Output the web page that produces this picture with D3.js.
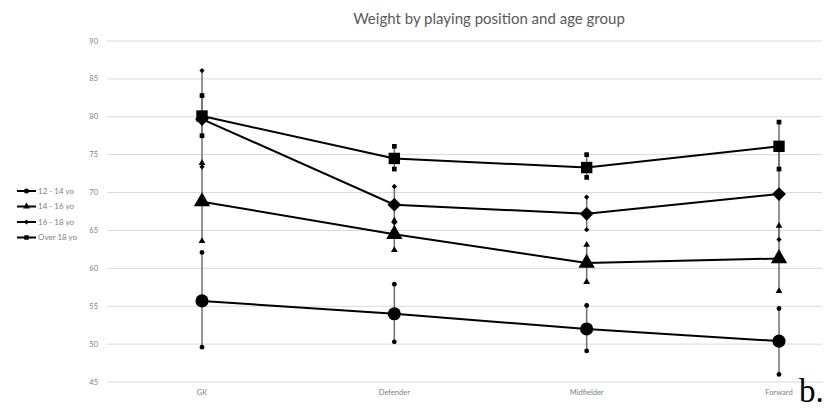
<!DOCTYPE html>
<html>
<head>
<meta charset="utf-8">
<script src="https://cdn.jsdelivr.net/npm/d3@7"></script>
<style>
  body { margin: 0; background: #fff; }
  svg { display: block; }
</style>
</head>
<body>
<div id="chart"></div>
<script>
const positions = ["GK", "Defender", "Midfielder", "Forward"];
const groups = ["12 - 14 yo", "14 - 16 yo", "16 - 18 yo", "Over 18 yo"];
const shapes = ["circle", "triangle", "diamond", "square"];

const means = [
    [55.7, 54.0, 52.0, 50.4],
    [68.8, 64.5, 60.7, 61.3],
    [79.7, 68.4, 67.2, 69.8],
    [80.1, 74.5, 73.3, 76.1]
];
const upper = [
    [62.1, 57.9, 55.1, 54.7],
    [73.9, 66.3, 63.1, 65.6],
    [86.1, 70.8, 69.4, 75.8],
    [82.8, 76.1, 75.0, 79.3]
];
const lower = [
    [49.6, 50.3, 49.1, 46.0],
    [63.6, 62.4, 58.2, 57.0],
    [73.4, 66.0, 65.1, 63.8],
    [77.5, 73.1, 72.0, 73.1]
];
const yTicks = [45, 50, 55, 60, 65, 70, 75, 80, 85, 90];

const width = 830, height = 408;
const svg = d3.select("#chart").append("svg").attr("width", width).attr("height", height);

const x = d3.scalePoint().domain(positions).range([202, 779]);
const y = d3.scaleLinear().domain([45, 90]).range([382, 41]);

// diamond = rotated square, like the spreadsheet marker
const symbolType = {
    circle: d3.symbolCircle,
    triangle: d3.symbolTriangle,
    diamond: d3.symbolSquare,
    square: d3.symbolSquare
};
const rot = { circle: 0, triangle: 0, diamond: 45, square: 0 };
const bigSize = { circle: 135, triangle: 115, diamond: 95, square: 130 };
const smallSize = { circle: 18, triangle: 20, diamond: 14, square: 22 };

// grid
svg.append("g").selectAll("line").data(yTicks).join("line")
    .attr("x1", 107).attr("x2", 822)
    .attr("y1", d => y(d)).attr("y2", d => y(d))
    .attr("stroke", "#d9d9d9").attr("stroke-width", 1);

// y labels
svg.append("g").selectAll("text").data(yTicks).join("text")
    .attr("x", 98).attr("y", d => y(d) + 2.5)
    .attr("text-anchor", "end")
    .attr("font-family", "Lato, 'Open Sans', sans-serif")
    .attr("font-size", 7.5).attr("fill", "#808080")
    .text(d => d);

// x labels
svg.append("g").selectAll("text").data(positions).join("text")
    .attr("x", d => x(d)).attr("y", 395)
    .attr("text-anchor", "middle")
    .attr("font-family", "Lato, 'Open Sans', sans-serif")
    .attr("font-size", 7.5).attr("fill", "#808080")
    .text(d => d);

// title
svg.append("text")
    .attr("x", 489).attr("y", 24)
    .attr("text-anchor", "middle")
    .attr("font-family", "Lato, 'Open Sans', sans-serif")
    .attr("font-size", 15).attr("fill", "#595959")
    .text("Weight by playing position and age group");

// error bars
groups.forEach((g, i) => {
    svg.append("g").selectAll("line").data(positions).join("line")
        .attr("x1", d => x(d)).attr("x2", d => x(d))
        .attr("y1", (d, j) => y(upper[i][j]))
        .attr("y2", (d, j) => y(lower[i][j]))
        .attr("stroke", "#707070").attr("stroke-width", 1.5);
});

// lines
const line = d3.line().x(d => x(d.p)).y(d => y(d.v));
groups.forEach((g, i) => {
    const pts = positions.map((p, j) => ({ p: p, v: means[i][j] }));
    svg.append("path").datum(pts)
        .attr("d", line).attr("fill", "none")
        .attr("stroke", "#000").attr("stroke-width", 2);
});

// markers
groups.forEach((g, i) => {
    const sh = shapes[i];
    const mg = svg.append("g");
    const ends = [];
    positions.forEach((p, j) => {
        ends.push({ p: p, v: upper[i][j] });
        ends.push({ p: p, v: lower[i][j] });
    });
    mg.selectAll("path.end").data(ends).join("path").attr("class", "end")
        .attr("d", d3.symbol().type(symbolType[sh]).size(smallSize[sh]))
        .attr("transform", d => `translate(${x(d.p)},${y(d.v)}) rotate(${rot[sh]})`)
        .attr("fill", "#000");
    mg.selectAll("path.mean").data(positions.map((p, j) => ({ p: p, v: means[i][j] })))
        .join("path").attr("class", "mean")
        .attr("d", d3.symbol().type(symbolType[sh]).size(bigSize[sh]))
        .attr("transform", d => `translate(${x(d.p)},${y(d.v)}) rotate(${rot[sh]})`)
        .attr("fill", "#000");
});

// legend
const leg = svg.append("g");
groups.forEach((g, i) => {
    const ly = 191 + i * 15.5;
    const sh = shapes[i];
    leg.append("line").attr("x1", 17).attr("x2", 36).attr("y1", ly).attr("y2", ly)
        .attr("stroke", "#000").attr("stroke-width", 2);
    leg.append("path")
        .attr("d", d3.symbol().type(symbolType[sh]).size(sh === "diamond" ? 12 : 20))
        .attr("transform", `translate(26.5,${ly}) rotate(${rot[sh]})`).attr("fill", "#000");
    leg.append("text").attr("x", 38).attr("y", ly + 2.7)
        .attr("font-family", "Lato, 'Open Sans', sans-serif")
        .attr("font-size", 8).attr("fill", "#808080")
        .text(g);
});

svg.append("text")
    .attr("x", 799).attr("y", 402)
    .attr("font-family", "'Liberation Serif', serif")
    .attr("font-size", 33).attr("fill", "#000")
    .text("b.");
</script>
</body>
</html>
